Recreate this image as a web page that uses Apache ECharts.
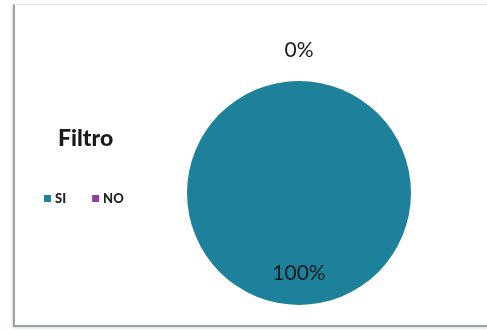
<!DOCTYPE html>
<html>
<head>
<meta charset="utf-8">
<script src="https://cdn.jsdelivr.net/npm/echarts@6/dist/echarts.min.js"></script>
<style>
  html, body { margin: 0; padding: 0; background: #fff; }
  #frame {
    position: absolute; left: 13px; top: 4px; width: 480px; height: 320px;
    border-top: 1px solid #dfe5ea; border-left: 2px solid #9aa3a8; border-bottom: 2px solid #9aa3a8;
    box-shadow: -1px 1px 2px rgba(0,0,0,0.15);
  }
  #chart { position: absolute; left: 0; top: 0; width: 487px; height: 330px; }
</style>
</head>
<body>
<div id="frame"></div>
<div id="chart"></div>
<script>
// valores del gráfico
var categorias = ['SI', 'NO'];
var valores = [100, 0];
var colores = ['#1e819c', '#8e3f9b'];
var titulo = 'Filtro';

var chart = echarts.init(document.getElementById('chart'));

var datos = categorias.map(function (c, i) {
    var item = { name: c, value: valores[i], itemStyle: { color: colores[i] } };
    // etiqueta del 0% arriba, la del 100% abajo dentro del círculo
    item.label = i === 0 ? { offset: [0, 21] } : { offset: [0, -84] };
    return item;
});

chart.setOption({
    animation: false,
    title: {
        text: titulo,
        left: 53, top: 122,
        textStyle: { fontFamily: 'Lato', fontWeight: 900, fontSize: 23, color: '#1a1a1a' }
    },
    legend: {
        data: categorias,
        left: 39, top: 187,
        icon: 'rect', itemWidth: 7, itemHeight: 7, itemGap: 26,
        textStyle: { fontFamily: 'Lato', fontWeight: 900, fontSize: 13, color: '#222', padding: [0, 0, 0, -1] }
    },
    series: [{
        type: 'pie',
        center: [299, 193],
        radius: 112,
        startAngle: 90,
        silent: true,
        data: datos,
        label: {
            position: 'inside',
            formatter: function (p) { return Math.round(p.percent) + '%'; },
            fontFamily: 'Lato', fontSize: 21, color: '#1a1a1a'
        },
        labelLine: { show: false }
    }]
});
</script>
</body>
</html>
